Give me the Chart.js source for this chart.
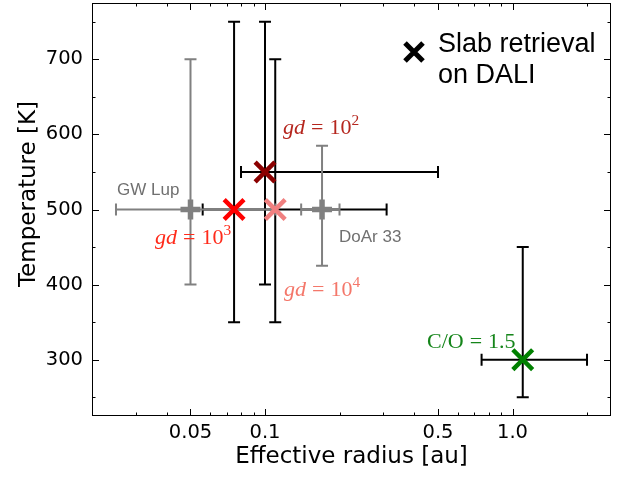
<!DOCTYPE html>
<html><head><meta charset="utf-8">
<script src="https://cdn.jsdelivr.net/npm/chart.js@4/dist/chart.umd.min.js"></script>
<style>html,body{margin:0;padding:0;background:#fff}canvas{display:block}</style>
</head><body>
<canvas id="c" width="628" height="477"></canvas>
<script>
// ---- data ----
const sources     = ['gd = 10^2', 'gd = 10^3', 'gd = 10^4', 'C/O = 1.5', 'GW Lup', 'DoAr 33'];
const kinds       = ['slab', 'slab', 'slab', 'slab', 'obs', 'obs'];
const colors      = ['#8b0000', '#ff0000', '#f08080', '#008000', '#808080', '#808080'];
const radius      = [0.10, 0.075, 0.11, 1.10, 0.05, 0.17];
const radiusLow   = [0.08, 0.056, 0.11, 0.75, 0.025, 0.14];
const radiusHigh  = [0.50, 0.31, 0.11, 2.00, 0.11, 0.20];
const temperature = [550, 500, 500, 300, 500, 500];
const tempLow     = [400, 350, 350, 250, 400, 425];
const tempHigh    = [750, 750, 700, 450, 700, 585];
const xTicks      = [0.05, 0.1, 0.5, 1.0];
const xTickLabels = ['0.05', '0.1', '0.5', '1.0'];
const xMinor      = [0.02, 0.03, 0.04, 0.06, 0.07, 0.08, 0.09, 0.2, 0.3, 0.4, 0.6, 0.7, 0.8, 0.9, 2.0];
const yTicks      = [300, 400, 500, 600, 700];
const yMinor      = [250, 350, 450, 550, 650, 750];

const datasets = sources.map((s, i) => ({
  label: s,
  data: [{x: radius[i], y: temperature[i]}],
  pointStyle: kinds[i] === 'slab' ? 'crossRot' : 'cross',
  radius: kinds[i] === 'slab' ? 14 : 10,
  borderWidth: kinds[i] === 'slab' ? 4.5 : 5.5,
  borderColor: colors[i],
  backgroundColor: colors[i],
  hoverRadius: 0,
  clip: false
}));

function drawMath(ctx, x, y, parts, size, color) {
  ctx.save();
  ctx.fillStyle = color;
  ctx.textBaseline = 'alphabetic';
  ctx.textAlign = 'left';
  let cx = x;
  for (const p of parts) {
    const fs = p.sup ? size * 0.7 : size;
    ctx.font = (p.it ? 'italic ' : '') + fs + 'px "Liberation Serif", "DejaVu Serif", serif';
    const dy = p.sup ? -size * 0.42 : 0;
    ctx.fillText(p.t, cx, y + dy);
    cx += ctx.measureText(p.t).width + (p.gap || 0);
  }
  ctx.restore();
}

const decor = {
  id: 'decor',
  beforeDatasetsDraw(chart) {
    const ctx = chart.ctx, xs = chart.scales.x, ys = chart.scales.y;
    const cap = 6;
    const order = [0, 1, 2, 3, 4, 5].sort((a, b) => (kinds[a] === 'obs') - (kinds[b] === 'obs'));
    ctx.save();
    ctx.lineWidth = 2;
    ctx.lineCap = 'butt';
    for (const i of order) {
      ctx.strokeStyle = kinds[i] === 'obs' ? '#808080' : '#000000';
      const px = xs.getPixelForValue(radius[i]);
      const py = ys.getPixelForValue(temperature[i]);
      if (radiusLow[i] < radiusHigh[i]) {
        const x0 = xs.getPixelForValue(radiusLow[i]), x1 = xs.getPixelForValue(radiusHigh[i]);
        ctx.beginPath();
        ctx.moveTo(x0, py); ctx.lineTo(x1, py);
        ctx.moveTo(x0, py - cap); ctx.lineTo(x0, py + cap);
        ctx.moveTo(x1, py - cap); ctx.lineTo(x1, py + cap);
        ctx.stroke();
      }
      if (tempLow[i] < tempHigh[i]) {
        const y0 = ys.getPixelForValue(tempLow[i]), y1 = ys.getPixelForValue(tempHigh[i]);
        ctx.beginPath();
        ctx.moveTo(px, y0); ctx.lineTo(px, y1);
        ctx.moveTo(px - cap, y0); ctx.lineTo(px + cap, y0);
        ctx.moveTo(px - cap, y1); ctx.lineTo(px + cap, y1);
        ctx.stroke();
      }
    }
    ctx.restore();
  },
  afterDraw(chart) {
    const ctx = chart.ctx, a = chart.chartArea, xs = chart.scales.x, ys = chart.scales.y;
    ctx.save();
    // frame
    ctx.strokeStyle = '#000';
    ctx.lineWidth = 1;
    ctx.strokeRect(Math.round(a.left) + 0.5, Math.round(a.top) + 0.5,
                   Math.round(a.right - a.left) - 1, Math.round(a.bottom - a.top) - 1);
    // inward ticks on all sides
    const tick = (v, len, horiz) => {
      ctx.beginPath();
      if (horiz) {
        const p = Math.round(xs.getPixelForValue(v)) + 0.5;
        ctx.moveTo(p, a.bottom); ctx.lineTo(p, a.bottom - len);
        ctx.moveTo(p, a.top); ctx.lineTo(p, a.top + len);
      } else {
        const p = Math.round(ys.getPixelForValue(v)) + 0.5;
        ctx.moveTo(a.left, p); ctx.lineTo(a.left + len, p);
        ctx.moveTo(a.right, p); ctx.lineTo(a.right - len, p);
      }
      ctx.stroke();
    };
    xTicks.forEach(v => tick(v, 7, true));
    xMinor.forEach(v => tick(v, 3.5, true));
    yTicks.forEach(v => tick(v, 7, false));
    yMinor.forEach(v => tick(v, 3.5, false));

    // axis titles
    ctx.fillStyle = '#000';
    ctx.font = '23px "DejaVu Sans"';
    ctx.textAlign = 'center';
    ctx.textBaseline = 'middle';
    ctx.fillText('Effective radius [au]', (a.left + a.right) / 2, 457);
    ctx.save();
    ctx.translate(29, 194);
    ctx.rotate(-Math.PI / 2);
    ctx.fillText('Temperature [K]', 0, 0);
    ctx.restore();

    // legend
    ctx.save();
    ctx.strokeStyle = '#000';
    ctx.lineWidth = 5;
    const lx = 414, ly = 52, lr = 9;
    ctx.beginPath();
    ctx.moveTo(lx - lr, ly - lr); ctx.lineTo(lx + lr, ly + lr);
    ctx.moveTo(lx - lr, ly + lr); ctx.lineTo(lx + lr, ly - lr);
    ctx.stroke();
    ctx.restore();
    ctx.font = '27px "Liberation Sans", Arial, sans-serif';
    ctx.textAlign = 'left';
    ctx.textBaseline = 'alphabetic';
    ctx.fillText('Slab retrieval', 438, 52);
    ctx.fillText('on DALI', 438, 83);

    // source labels
    ctx.fillStyle = '#707070';
    ctx.font = '17px "Liberation Sans", Arial, sans-serif';
    ctx.fillText('GW Lup', 117, 195);
    ctx.fillText('DoAr 33', 339, 242);

    // model annotations
    const gd = (x, y, exp, col) => drawMath(ctx, x, y, [
      {t: 'gd', it: true, gap: 6}, {t: '=', gap: 6}, {t: '10'}, {t: exp, sup: true}
    ], 22, col);
    gd(283, 134, '2', '#b5261e');
    gd(155, 244, '3', '#ff2a1a');
    gd(284, 296, '4', '#f4776a');
    drawMath(ctx, 427, 348, [{t: 'C/O', gap: 6}, {t: '=', gap: 6}, {t: '1.5'}], 22, '#15851a');
    ctx.restore();
  }
};

new Chart(document.getElementById('c'), {
  type: 'scatter',
  data: {datasets},
  options: {
    responsive: false,
    animation: false,
    devicePixelRatio: 1,
    layout: {autoPadding: false, padding: {left: 0, right: 17, top: 3, bottom: 0}},
    plugins: {legend: {display: false}, tooltip: {enabled: false}},
    events: [],
    scales: {
      x: {
        type: 'logarithmic',
        min: 0.02, max: 2.5,
        grid: {display: false, drawTicks: false},
        border: {display: false},
        afterBuildTicks: s => { s.ticks = xTicks.map(v => ({value: v})); },
        afterFit: s => { s.height = 61; s.paddingLeft = 0; s.paddingRight = 0; },
        ticks: {
          color: '#000', padding: 5, maxRotation: 0, autoSkip: false,
          font: {family: 'DejaVu Sans', size: 19.5},
          callback: (v) => { const k = xTicks.indexOf(v); return k >= 0 ? xTickLabels[k] : ''; }
        }
      },
      y: {
        type: 'linear',
        min: 225, max: 775,
        grid: {display: false, drawTicks: false},
        border: {display: false},
        afterBuildTicks: s => { s.ticks = yTicks.map(v => ({value: v})); },
        afterFit: s => { s.width = 92; s.paddingTop = 0; s.paddingBottom = 0; },
        ticks: {
          color: '#000', padding: 9,
          font: {family: 'DejaVu Sans', size: 19.5},
          callback: v => String(v)
        }
      }
    }
  },
  plugins: [decor]
});
</script>
</body></html>
